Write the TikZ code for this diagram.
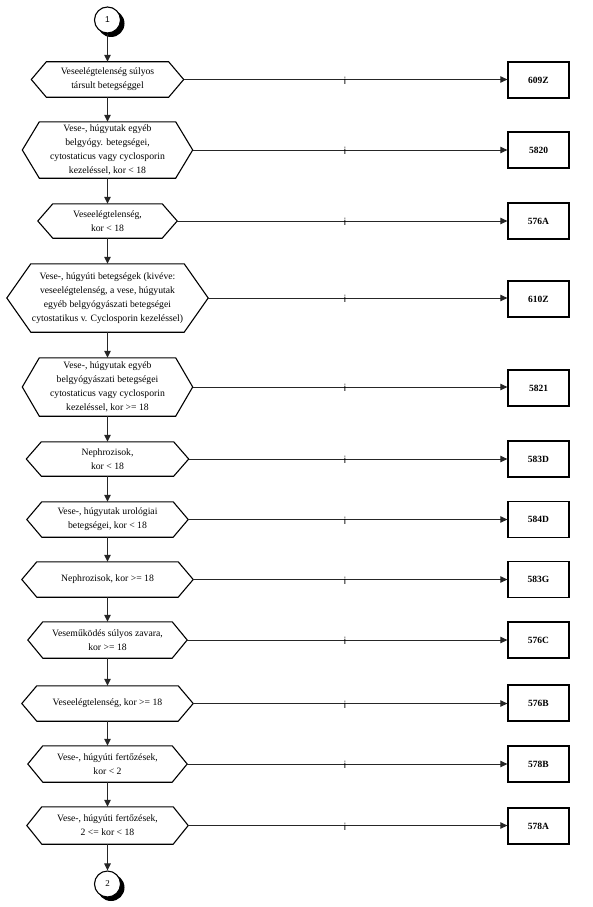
\documentclass[tikz,border=0pt]{standalone}
\usepackage{fontspec}
\setmainfont{Liberation Serif}
\newfontfamily\sansf{Liberation Sans}
\usetikzlibrary{arrows.meta}
\tikzset{
  hexbox/.style={inner sep=0pt, align=center, font=\fontsize{9.7}{13.8}\selectfont},
  hexline/.style={line width=1.1pt, line join=miter},
  codebox/.style={draw, line width=1.3pt, minimum width=61pt, minimum height=36pt, inner sep=0pt, font=\fontsize{9.5}{11}\selectfont\bfseries},
  conn/.style={line width=1pt, draw=black!85, -{Triangle[length=7pt,width=6.5pt]}},
  ilab/.style={inner sep=0pt, text=black, font=\fontsize{10}{10}\sansf},
  connector/.style={circle, draw, line width=1.1pt, fill=white, minimum size=26pt, inner sep=0pt},
  shadowfill/.style={fill=black, draw=none}
}
\newcommand\hexdraw[2]{\draw[hexline] (#1.north west) -- (#1.north east) -- ([xshift=#2]#1.east) -- (#1.south east) -- (#1.south west) -- ([xshift=-#2]#1.west) -- cycle;}
\begin{document}
\begin{tikzpicture}[x=1pt,y=-1pt]
\useasboundingbox (0,0) rectangle (593,907);
\coordinate (icol) at (345,0);
\coordinate (p1) at (107.5,20);
\coordinate (p2) at (107.5,884);
\coordinate (s1) at (111,23.5);
\coordinate (s2) at (111,887.5);
\path[shadowfill] (s1) circle[radius=13.5pt];
\path[shadowfill] (s2) circle[radius=13.5pt];
\node[connector, font=\fontsize{8.5}{9}\sansf] (c1) at (p1) {1};
\node[connector, font=\fontsize{9}{9}\selectfont] (c2) at (p2) {2};

\node[hexbox, minimum width=122pt, minimum height=35pt] (h1) at (107.5,79.5) {Veseelégtelenség súlyos\\társult betegséggel};
\node[hexbox, minimum width=136pt, minimum height=56pt] (h2) at (107.5,150) {Vese-, húgyutak egyéb\\belgyógy. betegségei,\\cytostaticus vagy cyclosporin\\kezeléssel, kor < 18};
\node[hexbox, minimum width=109pt, minimum height=34pt] (h3) at (107.5,221) {Veseelégtelenség,\\kor < 18};
\node[hexbox, minimum width=153pt, minimum height=68pt] (h4) at (107.5,298) {Vese-, húgyúti betegségek (kivéve:\\veseelégtelenség, a vese, húgyutak\\egyéb belgyógyászati betegségei\\cytostatikus v. Cyclosporin kezeléssel)};
\node[hexbox, minimum width=136pt, minimum height=58pt] (h5) at (107.5,387) {Vese-, húgyutak egyéb\\belgyógyászati betegségei\\cytostaticus vagy cyclosporin\\kezeléssel, kor >= 18};
\node[hexbox, minimum width=132pt, minimum height=34pt] (h6) at (107.5,459) {Nephrozisok,\\kor < 18};
\node[hexbox, minimum width=131pt, minimum height=35pt] (h7) at (107.5,519.5) {Vese-, húgyutak urológiai\\betegségei, kor < 18};
\node[hexbox, minimum width=141pt, minimum height=35pt] (h8) at (107.5,579.5) {Nephrozisok, kor >= 18};
\node[hexbox, minimum width=129pt, minimum height=36pt] (h9) at (107.5,640) {Veseműködés súlyos zavara,\\kor >= 18};
\node[hexbox, minimum width=141pt, minimum height=35pt] (h10) at (107.5,703.5) {Veseelégtelenség, kor >= 18};
\node[hexbox, minimum width=129pt, minimum height=36pt] (h11) at (107.5,764) {Vese-, húgyúti fertőzések,\\kor < 2};
\node[hexbox, minimum width=131pt, minimum height=37pt] (h12) at (107.5,825.5) {Vese-, húgyúti fertőzések,\\2 <= kor < 18};

\hexdraw{h1}{15pt}
\hexdraw{h2}{17pt}
\hexdraw{h3}{15pt}
\hexdraw{h4}{24pt}
\hexdraw{h5}{17pt}
\hexdraw{h6}{15pt}
\hexdraw{h7}{15pt}
\hexdraw{h8}{15pt}
\hexdraw{h9}{15pt}
\hexdraw{h10}{15pt}
\hexdraw{h11}{15pt}
\hexdraw{h12}{15pt}

\node[codebox] (b1) at (538.5,80) {609Z};
\node[codebox] (b2) at (538.5,150) {5820};
\node[codebox] (b3) at (538.5,221) {576A};
\node[codebox] (b4) at (538.5,299) {610Z};
\node[codebox] (b5) at (538.5,388) {5821};
\node[codebox] (b6) at (538.5,459) {583D};
\node[codebox] (b7) at (538.5,519.5) {584D};
\node[codebox] (b8) at (538.5,579.5) {583G};
\node[codebox] (b9) at (538.5,640) {576C};
\node[codebox] (b10) at (538.5,703) {576B};
\node[codebox] (b11) at (538.5,764) {578B};
\node[codebox] (b12) at (538.5,826) {578A};

\draw[conn] (c1) -- (h1.north);
\draw[conn] (h1.south) -- (h2.north);
\draw[conn] (h2.south) -- (h3.north);
\draw[conn] (h3.south) -- (h4.north);
\draw[conn] (h4.south) -- (h5.north);
\draw[conn] (h5.south) -- (h6.north);
\draw[conn] (h6.south) -- (h7.north);
\draw[conn] (h7.south) -- (h8.north);
\draw[conn] (h8.south) -- (h9.north);
\draw[conn] (h9.south) -- (h10.north);
\draw[conn] (h10.south) -- (h11.north);
\draw[conn] (h11.south) -- (h12.north);
\draw[conn] (h12.south) -- (c2);

\draw[conn] ([xshift=15pt]h1.east) -- (h1.east -| b1.west);
\draw[conn] ([xshift=17pt]h2.east) -- (h2.east -| b2.west);
\draw[conn] ([xshift=15pt]h3.east) -- (h3.east -| b3.west);
\draw[conn] ([xshift=24pt]h4.east) -- (h4.east -| b4.west);
\draw[conn] ([xshift=17pt]h5.east) -- (h5.east -| b5.west);
\draw[conn] ([xshift=15pt]h6.east) -- (h6.east -| b6.west);
\draw[conn] ([xshift=15pt]h7.east) -- (h7.east -| b7.west);
\draw[conn] ([xshift=15pt]h8.east) -- (h8.east -| b8.west);
\draw[conn] ([xshift=15pt]h9.east) -- (h9.east -| b9.west);
\draw[conn] ([xshift=15pt]h10.east) -- (h10.east -| b10.west);
\draw[conn] ([xshift=15pt]h11.east) -- (h11.east -| b11.west);
\draw[conn] ([xshift=15pt]h12.east) -- (h12.east -| b12.west);

\foreach \n in {1,...,12}{\node[ilab] at ([yshift=-1pt]h\n.east -| icol) {i};}
\end{tikzpicture}
\end{document}
